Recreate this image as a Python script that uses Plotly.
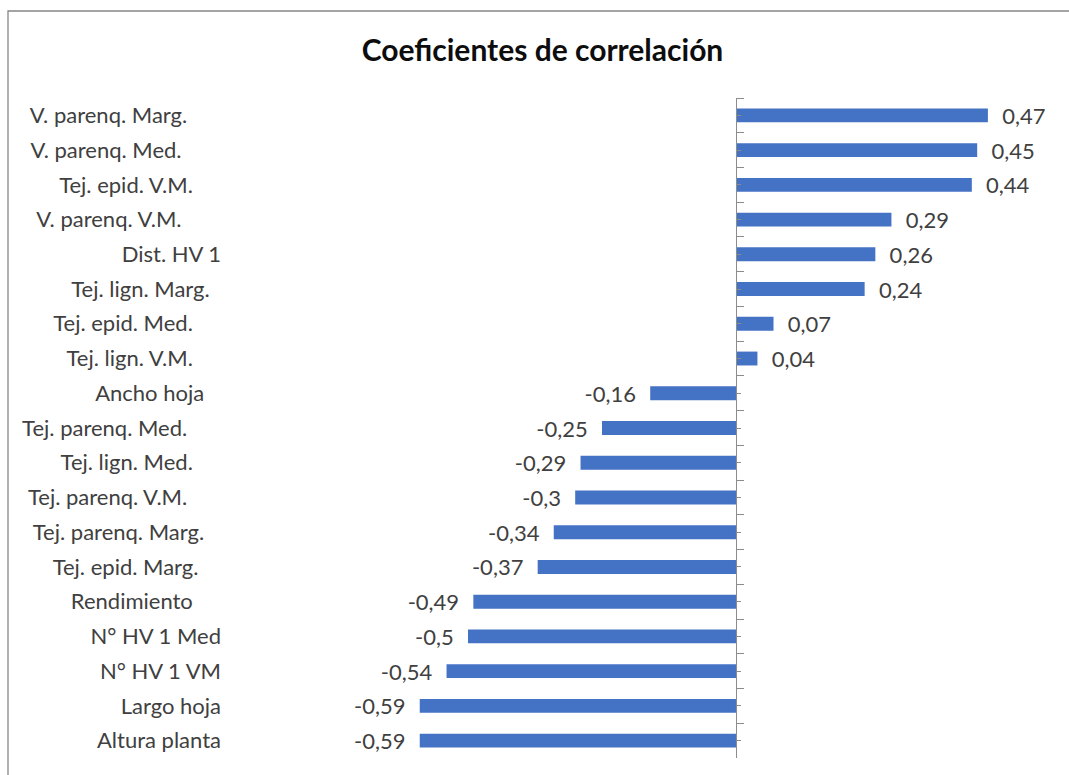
import plotly.graph_objects as go

# ---- data (top to bottom as shown) ----
categories = [
    "V. parenq. Marg.      ", "V. parenq. Med.       ", "Tej. epid. V.M.     ",
    "V. parenq. V.M.       ", "Dist. HV 1", "Tej. lign. Marg.  ",
    "Tej. epid. Med.     ", "Tej. lign. V.M.     ", "Ancho hoja   ",
    "Tej. parenq. Med.      ", "Tej. lign. Med.     ", "Tej. parenq. V.M.      ",
    "Tej. parenq. Marg.   ", "Tej. epid. Marg.    ", "Rendimiento     ",
    "N° HV 1 Med", "N° HV 1 VM", "Largo hoja", "Altura planta",
]
values = [0.47, 0.45, 0.44, 0.29, 0.26, 0.24, 0.07, 0.04, -0.16, -0.25,
          -0.29, -0.30, -0.34, -0.37, -0.49, -0.50, -0.54, -0.59, -0.59]
title_text = "Coeficientes de correlación"

# ---- style ----
FONT = "Lato"
BAR_COLOR = "#4472C4"
TEXT_COLOR = "#404040"
AXIS_COLOR = "#8c8c8c"
X_MIN, X_MAX = -0.944, 0.6045
W, H = 1069, 775
ML, MR, MT, MB = 230, 9, 98, 17

NB = "\u00a0"
keys = [c.strip() for c in categories]
ticktext = [c.rstrip() + NB * (len(c) - len(c.rstrip())) for c in categories]


def fmt(v):
    s = f"{v:.2f}".rstrip("0").rstrip(".").replace(".", ",")
    return (NB * 2 + s) if v >= 0 else (s + NB * 2)


labels = [fmt(v) for v in values]
n = len(keys)
yrange = [n - 0.5, -0.5]

fig = go.Figure()
fig.add_trace(go.Bar(
    x=values, y=keys, orientation="h",
    marker=dict(color=BAR_COLOR, line=dict(width=0)),
    text=labels, textposition="outside", cliponaxis=False,
    constraintext="none",
    textfont=dict(family=FONT, size=22, color=TEXT_COLOR),
    hoverinfo="skip", showlegend=False,
))
# invisible helper traces to carry the axis at x = 0
for ax in ("y2", "y3"):
    fig.add_trace(go.Scatter(
        x=[0] * n, y=keys, yaxis=ax, mode="markers",
        marker=dict(size=1, opacity=0), hoverinfo="skip", showlegend=False,
    ))

zero_pos = (0 - X_MIN) / (X_MAX - X_MIN)

fig.update_layout(
    width=W, height=H,
    margin=dict(l=ML, r=MR, t=MT, b=MB),
    paper_bgcolor="white", plot_bgcolor="white",
    bargap=0.6,
    title=dict(text=f"<b>{title_text}</b>", x=0.5075, xanchor="center",
               y=1 - 50 / H, yanchor="middle",
               font=dict(family=FONT, size=30, color="#0d0d0d")),
    xaxis=dict(range=[X_MIN, X_MAX], showgrid=False, zeroline=False,
               showline=False, showticklabels=False, ticks=""),
    yaxis=dict(type="category", categoryorder="array", categoryarray=keys,
               range=yrange, tickvals=keys, ticktext=ticktext,
               showgrid=False, showline=False, ticks="", ticklabelstandoff=8,
               tickfont=dict(family=FONT, size=22, color=TEXT_COLOR)),
    yaxis2=dict(type="category", categoryorder="array", categoryarray=keys,
                range=yrange, overlaying="y", anchor="free", position=zero_pos,
                side="right", showgrid=False, showline=True,
                linecolor=AXIS_COLOR, linewidth=1.3,
                ticks="outside", tickson="boundaries", ticklen=7,
                tickcolor=AXIS_COLOR, tickwidth=1.3, showticklabels=False),
    yaxis3=dict(type="category", categoryorder="array", categoryarray=keys,
                range=yrange, overlaying="y", anchor="free", position=zero_pos,
                side="right", showgrid=False, showline=False,
                ticks="outside", ticklen=4,
                tickcolor=AXIS_COLOR, tickwidth=1.3, showticklabels=False),
)

# chart border (top and left edges visible)
pw, ph = W - ML - MR, H - MT - MB
fig.add_shape(type="rect", xref="paper", yref="paper",
              x0=(8 - ML) / pw, x1=(W + 20 - ML) / pw,
              y0=-(H + 20 - MT - ph) / ph, y1=(H - 11 - MB) / ph,
              line=dict(color="#878787", width=1.3), fillcolor="rgba(0,0,0,0)",
              layer="below")

fig.write_html("out.html",
               config={"displayModeBar": False},
               post_script="document.body.style.margin='0';"
                           "document.body.style.padding='0';")
